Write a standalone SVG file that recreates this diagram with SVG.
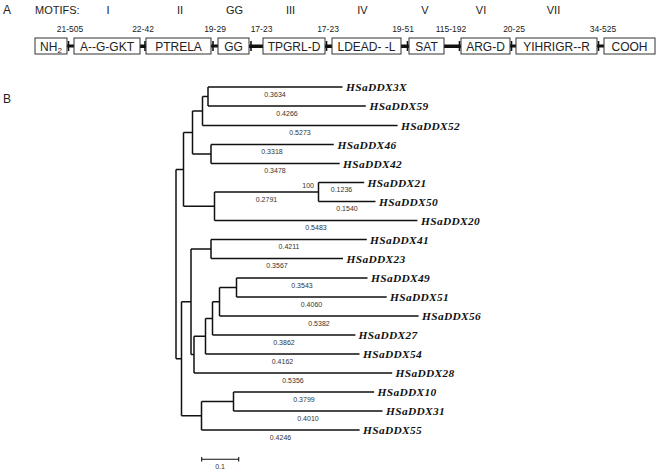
<svg xmlns="http://www.w3.org/2000/svg" width="661" height="472" viewBox="0 0 661 472">
<style>
.hd{font-family:"Liberation Sans",Arial,sans-serif;font-size:12px;fill:#222}
.mt{font-family:"Liberation Sans",Arial,sans-serif;font-size:11px;fill:#222;text-anchor:middle}
.rg{font-family:"Liberation Sans",Arial,sans-serif;font-size:8.5px;fill:#222;text-anchor:middle}
.bx rect{fill:#fff;stroke:#333;stroke-width:1}
.bx text{font-family:"Liberation Sans",Arial,sans-serif;font-size:12px;fill:#222;text-anchor:middle}
.bar{fill:#111}
.tick{stroke:#111;stroke-width:1.6}
.br{fill:none;stroke:#111;stroke-width:1.5}
.lf{font-family:"Liberation Serif","Times New Roman",serif;font-style:italic;font-weight:bold;font-size:11.4px;letter-spacing:0.35px;fill:#111}
.bl{font-family:"Liberation Sans",Arial,sans-serif;font-size:7px;fill:#333;text-anchor:middle}
</style>
<text class="hd" x="3" y="14">A</text>
<text class="hd" x="35" y="14" style="font-size:11px">MOTIFS:</text>
<text class="mt" x="108" y="14">I</text>
<text class="mt" x="180" y="14">II</text>
<text class="mt" x="234.5" y="14">GG</text>
<text class="mt" x="290.5" y="14">III</text>
<text class="mt" x="362.5" y="14">IV</text>
<text class="mt" x="425" y="14">V</text>
<text class="mt" x="481" y="14">VI</text>
<text class="mt" x="553.5" y="14">VII</text>
<g id="ranges">
<text class="rg" x="70" y="32">21-505</text>
<text class="rg" x="143" y="32">22-42</text>
<text class="rg" x="215" y="32">19-29</text>
<text class="rg" x="261.5" y="32">17-23</text>
<text class="rg" x="328" y="32">17-23</text>
<text class="rg" x="403" y="32">19-51</text>
<text class="rg" x="451" y="32">115-192</text>
<text class="rg" x="514" y="32">20-25</text>
<text class="rg" x="603" y="32">34-525</text>
</g>
<g id="motif-links">
<rect class="bar" x="67" y="44.5" width="7" height="3"/><line class="tick" x1="68.5" y1="41" x2="68.5" y2="51"/>
<rect class="bar" x="140" y="44.5" width="6" height="3.5"/><line class="tick" x1="145" y1="41" x2="145" y2="51"/>
<rect class="bar" x="211" y="44.5" width="7" height="3"/><line class="tick" x1="213" y1="41" x2="213" y2="51"/>
<rect class="bar" x="249" y="44.5" width="14" height="3.5"/><line class="tick" x1="251" y1="41" x2="251" y2="51"/>
<rect class="bar" x="325" y="44.5" width="7" height="3.5"/><line class="tick" x1="326.5" y1="41" x2="326.5" y2="51"/>
<rect class="bar" x="401" y="44.5" width="8" height="3.5"/><line class="tick" x1="407.5" y1="41" x2="407.5" y2="51"/>
<rect class="bar" x="444" y="44.5" width="17" height="3.5"/><line class="tick" x1="459.5" y1="41" x2="459.5" y2="51"/>
<rect class="bar" x="510" y="44.5" width="6" height="3"/><line class="tick" x1="511.5" y1="41" x2="511.5" y2="51"/>
<rect class="bar" x="597" y="44.5" width="7" height="3"/><line class="tick" x1="598.5" y1="41" x2="598.5" y2="51"/>
</g>
<g id="m-nh2" class="bx"><rect x="35" y="38" width="32" height="16"/><text x="51" y="50.5">NH<tspan font-size="8" dy="2">2</tspan></text></g>
<g id="m-i" class="bx"><rect x="74" y="38" width="66" height="16"/><text x="107" y="50.5">A--G-GKT</text></g>
<g id="m-ii" class="bx"><rect x="146" y="38" width="65" height="16"/><text x="178.5" y="50.5">PTRELA</text></g>
<g id="m-gg" class="bx"><rect x="218" y="38" width="31" height="16"/><text x="233.5" y="50.5">GG</text></g>
<g id="m-iii" class="bx"><rect x="263" y="38" width="62" height="16"/><text x="294" y="50.5">TPGRL-D</text></g>
<g id="m-iv" class="bx"><rect x="332" y="38" width="69" height="16"/><text x="366.5" y="50.5">LDEAD- -L</text></g>
<g id="m-v" class="bx"><rect x="409" y="38" width="35" height="16"/><text x="426.5" y="50.5">SAT</text></g>
<g id="m-vi" class="bx"><rect x="461" y="38" width="49" height="16"/><text x="485.5" y="50.5">ARG-D</text></g>
<g id="m-vii" class="bx"><rect x="516" y="38" width="81" height="16"/><text x="556.5" y="50.5">YIHRIGR--R</text></g>
<g id="m-cooh" class="bx"><rect x="604" y="38" width="51" height="16"/><text x="629.5" y="50.5">COOH</text></g>

<text class="hd" x="3" y="103">B</text>

<g id="connectors">
<path class="br" d="M176,169.4V358.8"/>
<path class="br" d="M176,169.4H183.5M183.5,132.5V206.2"/>
<path class="br" d="M183.5,132.5H192.5M192.5,111V154"/>
<path class="br" d="M192.5,111H202.5M202.5,96.5V125.5"/>
<path class="br" d="M202.5,96.5H208M208,87V106"/>
<path class="br" d="M192.5,154H211M211,144.5V163.5"/>
<path class="br" d="M183.5,206.2H214.5M214.5,192V220.5"/>
<path class="br" d="M214.5,192H318.5M318.5,182.5V201.5"/>
<path class="br" d="M176,358.8H181.5M181.5,301.8V415.8"/>
<path class="br" d="M181.5,301.8H191M191,249V354.6"/>
<path class="br" d="M191,249H211M211,239.5V258.5"/>
<path class="br" d="M191,354.6H194M194,336.2V373"/>
<path class="br" d="M194,336.2H205.5M205.5,318.4V354"/>
<path class="br" d="M205.5,318.4H212.5M212.5,301.7V335"/>
<path class="br" d="M212.5,301.7H219.5M219.5,287.5V316"/>
<path class="br" d="M219.5,287.5H236.5M236.5,278V297"/>
<path class="br" d="M181.5,415.8H201.5M201.5,401.5V430"/>
<path class="br" d="M201.5,401.5H233.5M233.5,392V411"/>
<path class="br" d="M208,87H342.5M208,106H365.8M202.5,125.5H397.6M211,144.5H333.8M211,163.5H339.7M318.5,182.5H364.2M318.5,201.5H375.5M214.5,220.5H417.4M211,239.5H366.8M211,258.5H343M236.5,278H367.5M236.5,297H386.7M219.5,316H418.6M212.5,335H355.4M205.5,354H359.5M194,373H392.2M233.5,392H374.1M233.5,411H382.5M201.5,430H359.6"/>
</g>

<g id="branch-lengths">
<text class="bl" x="275" y="96.5">0.3634</text>
<text class="bl" x="287" y="115.5">0.4266</text>
<text class="bl" x="300" y="135">0.5273</text>
<text class="bl" x="272" y="154">0.3318</text>
<text class="bl" x="275" y="173">0.3478</text>
<text class="bl" x="314" y="187.5" style="text-anchor:end">100</text>
<text class="bl" x="341.5" y="192">0.1236</text>
<text class="bl" x="266.5" y="201.5">0.2791</text>
<text class="bl" x="347" y="211">0.1540</text>
<text class="bl" x="316" y="230">0.5483</text>
<text class="bl" x="289" y="249">0.4211</text>
<text class="bl" x="277" y="268">0.3567</text>
<text class="bl" x="302" y="287.5">0.3543</text>
<text class="bl" x="311.5" y="306.5">0.4060</text>
<text class="bl" x="319" y="325.5">0.5382</text>
<text class="bl" x="284" y="344.5">0.3862</text>
<text class="bl" x="282.5" y="363.5">0.4162</text>
<text class="bl" x="293" y="382.5">0.5356</text>
<text class="bl" x="304" y="401.5">0.3799</text>
<text class="bl" x="308" y="420.5">0.4010</text>
<text class="bl" x="280.5" y="439.5">0.4246</text>
</g>

<g id="leaf-3X"><text class="lf" x="346" y="91">HSaDDX3X</text></g>
<g id="leaf-59"><text class="lf" x="369.5" y="110">HSaDDX59</text></g>
<g id="leaf-52"><text class="lf" x="401" y="129.5">HSaDDX52</text></g>
<g id="leaf-46"><text class="lf" x="337.5" y="148.5">HSaDDX46</text></g>
<g id="leaf-42"><text class="lf" x="343" y="167.5">HSaDDX42</text></g>
<g id="leaf-21"><text class="lf" x="367.5" y="186.5">HSaDDX21</text></g>
<g id="leaf-50"><text class="lf" x="379" y="205.5">HSaDDX50</text></g>
<g id="leaf-20"><text class="lf" x="421" y="224.5">HSaDDX20</text></g>
<g id="leaf-41"><text class="lf" x="370" y="243.5">HSaDDX41</text></g>
<g id="leaf-23"><text class="lf" x="346.5" y="262.5">HSaDDX23</text></g>
<g id="leaf-49"><text class="lf" x="371" y="282">HSaDDX49</text></g>
<g id="leaf-51"><text class="lf" x="390" y="301">HSaDDX51</text></g>
<g id="leaf-56"><text class="lf" x="422" y="320">HSaDDX56</text></g>
<g id="leaf-27"><text class="lf" x="358.5" y="339">HSaDDX27</text></g>
<g id="leaf-54"><text class="lf" x="363" y="358">HSaDDX54</text></g>
<g id="leaf-28"><text class="lf" x="395.5" y="377">HSaDDX28</text></g>
<g id="leaf-10"><text class="lf" x="377.5" y="396">HSaDDX10</text></g>
<g id="leaf-31"><text class="lf" x="386" y="415">HSaDDX31</text></g>
<g id="leaf-55"><text class="lf" x="363" y="434">HSaDDX55</text></g>

<g id="scale-bar">
<path class="br" style="stroke-width:1.1" d="M201.7,459.3H238.7M201.7,457V461.5M238.7,457V461.5"/>
<text class="bl" x="220" y="469">0.1</text>
</g>
</svg>
